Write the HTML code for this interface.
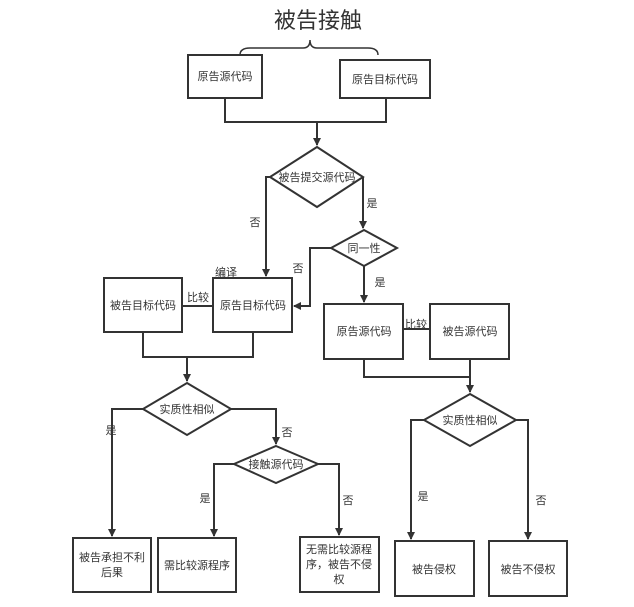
<!DOCTYPE html>
<html><head><meta charset="utf-8"><style>
html,body{margin:0;padding:0;background:#fff}
svg text{font-family:"Liberation Sans","Noto Sans CJK SC",sans-serif;fill:#333}
</style></head><body>
<svg width="634" height="602" viewBox="0 0 634 602" xmlns="http://www.w3.org/2000/svg">
<defs><marker id="a" markerWidth="8" markerHeight="8" refX="7" refY="4" orient="auto" markerUnits="userSpaceOnUse"><path d="M0,0 L8,4 L0,8 z" fill="#333"/></marker></defs>
<g fill="#fff" stroke="#333" stroke-width="2">
<path d="M240,55 Q240,48 250,48 L303,48 Q310,48 310,40 Q310,48 317,48 L368,48 Q378,48 378,55" fill="none" stroke-width="1.5"/>
<rect x="188" y="55" width="74" height="43"/>
<rect x="340" y="60" width="90" height="38"/>
<polygon points="317,147 363,177 317,207 270,177"/>
<polygon points="364,230 397,248 364,266 331,248"/>
<rect x="104" y="278" width="78" height="54"/>
<rect x="213" y="278" width="79" height="54"/>
<rect x="324" y="304" width="79" height="55"/>
<rect x="430" y="304" width="79" height="55"/>
<polygon points="187,383 231,409 187,435 143,409"/>
<polygon points="276,446 318,464 276,483 234,464"/>
<polygon points="470,394 516,420 470,446 424,420"/>
<rect x="73" y="538" width="78" height="54"/>
<rect x="158" y="538" width="78" height="54"/>
<rect x="300" y="537" width="79" height="55"/>
<rect x="395" y="541" width="79" height="55"/>
<rect x="489" y="541" width="78" height="55"/>
</g>
<g fill="none" stroke="#333" stroke-width="2">
<path d="M225,98 V122 H386 V98"/><path d="M317,122 V145" marker-end="url(#a)"/>
<path d="M270,177 H266 V276" marker-end="url(#a)"/>
<path d="M363,177 V228" marker-end="url(#a)"/>
<path d="M331,248 H310 V306 H294" marker-end="url(#a)"/>
<path d="M364,266 V302" marker-end="url(#a)"/>
<path d="M182,306 H213"/><path d="M403,329 H430"/>
<path d="M143,332 V357 H253 V332"/><path d="M187,357 V381" marker-end="url(#a)"/>
<path d="M143,409 H112 V536" marker-end="url(#a)"/>
<path d="M231,409 H276 V444" marker-end="url(#a)"/>
<path d="M234,464 H214 V536" marker-end="url(#a)"/>
<path d="M318,464 H339 V535" marker-end="url(#a)"/>
<path d="M364,359 V377 H470 V359"/><path d="M470,377 V392" marker-end="url(#a)"/>
<path d="M424,420 H411 V539" marker-end="url(#a)"/>
<path d="M516,420 H528 V539" marker-end="url(#a)"/>
</g>
<g font-size="11" text-anchor="middle">
<text x="318" y="28" font-size="22">被告接触</text>
<text x="225" y="80">原告源代码</text>
<text x="385" y="83">原告目标代码</text>
<text x="317" y="181">被告提交源代码</text>
<text x="364" y="252">同一性</text>
<text x="143" y="309">被告目标代码</text>
<text x="253" y="309">原告目标代码</text>
<text x="364" y="335">原告源代码</text>
<text x="470" y="335">被告源代码</text>
<text x="187" y="413">实质性相似</text>
<text x="276" y="468">接触源代码</text>
<text x="470" y="424">实质性相似</text>
<text x="112" y="561">被告承担不利</text><text x="112" y="576">后果</text>
<text x="197" y="569">需比较源程序</text>
<text x="339" y="553">无需比较源程</text><text x="339" y="568">序，被告不侵</text><text x="339" y="583">权</text>
<text x="434" y="573">被告侵权</text>
<text x="528" y="573">被告不侵权</text>
<text x="255" y="226">否</text><text x="372" y="207">是</text>
<text x="298" y="272">否</text><text x="380" y="286">是</text>
<text x="198" y="301">比较</text><text x="226" y="276">编译</text>
<text x="416" y="328">比较</text>
<text x="111" y="434">是</text><text x="287" y="436">否</text>
<text x="205" y="502">是</text><text x="348" y="504">否</text>
<text x="423" y="500">是</text><text x="541" y="504">否</text>
</g>
</svg>
</body></html>
